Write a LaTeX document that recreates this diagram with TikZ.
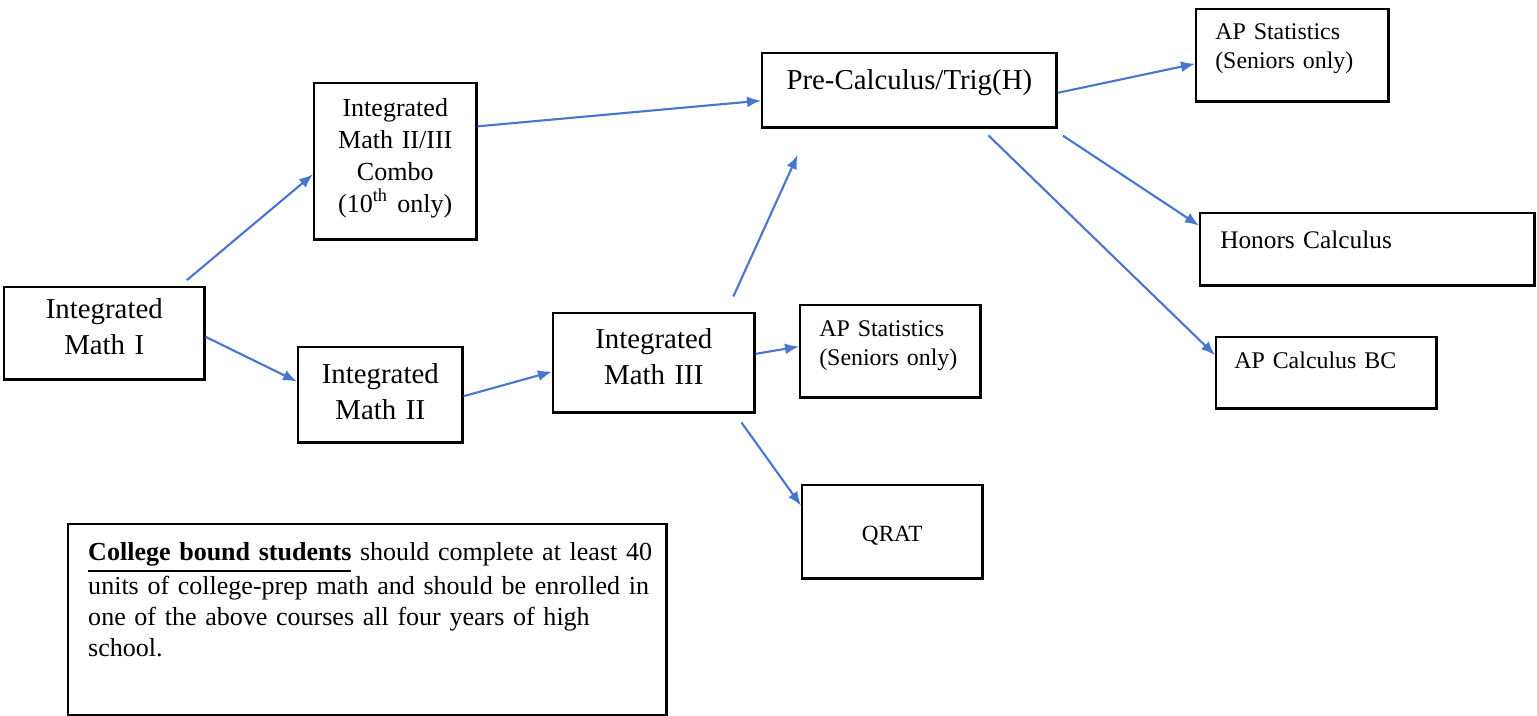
\documentclass[tikz,border=0pt]{standalone}
\usepackage{fontspec}
\setmainfont{Liberation Serif}
\usetikzlibrary{arrows.meta}
\definecolor{arrowblue}{RGB}{72,118,206}
\tikzset{
  box/.style={draw, line width=0.7pt, anchor=north west, inner xsep=0pt, inner ysep=0pt, align=center},
  leftbox/.style={box, align=left, inner xsep=0.19cm},
  arr/.style={draw=arrowblue, line width=0.6pt, -{Latex[length=1.4mm,width=1.1mm]}}
}
\newcommand{\coursefont}{\fontsize{8.2}{10.2}\selectfont}
\newcommand{\smallfont}{\fontsize{6.8}{8.3}\selectfont}

\begin{document}
\begin{tikzpicture}[x=0.01cm, y=-0.01cm]
    \useasboundingbox (0,0) rectangle (1537,715);

    % main path
    \node[box, text width=2cm, text height=0.31cm, text depth=0.61cm, font=\coursefont] (mathI) at (3,286) {Integrated\\Math I};
    \node[box, text width=1.62cm, text height=0.33cm, text depth=1.23cm, font=\fontsize{7.4}{9.1}\selectfont] (combo) at (313,82) {Integrated\\Math II/III\\Combo\\(10\textsuperscript{th} only)};
    \node[box, text width=1.64cm, text height=0.36cm, text depth=0.59cm, font=\coursefont] (mathII) at (297,346) {Integrated\\Math II};
    \node[box, text width=2.01cm, text height=0.35cm, text depth=0.64cm, font=\coursefont] (mathIII) at (552,312) {Integrated\\Math III};
    \node[box, text width=2.94cm, text height=0.36cm, text depth=0.38cm, font=\coursefont] (precalc) at (761,52) {Pre-Calculus/Trig(H)};

    % senior options
    \node[leftbox, text width=1.54cm, text height=0.30cm, text depth=0.62cm, font=\smallfont] (apstatA) at (1195,8) {AP Statistics\\(Seniors only)};
    \node[leftbox, inner xsep=0.2cm, text width=2.94cm, text height=0.35cm, text depth=0.37cm, font=\fontsize{7.2}{8.6}\selectfont] (honors) at (1199,212) {Honors Calculus};
    \node[leftbox, inner xsep=0.18cm, text width=1.84cm, text height=0.31cm, text depth=0.40cm, font=\smallfont] (apcalc) at (1215,336) {AP Calculus BC};
    \node[leftbox, text width=1.42cm, text height=0.31cm, text depth=0.61cm, font=\smallfont] (apstatB) at (799,304) {AP Statistics\\(Seniors only)};
    \node[box, text width=1.80cm, text height=0.56cm, text depth=0.37cm, font=\fontsize{6.6}{8}\selectfont] (qrat) at (801,484) {QRAT};

    % note
    \node[leftbox, inner xsep=0.2cm, text width=5.58cm, text height=0.36cm, text depth=1.55cm, font=\fontsize{7.4}{8.8}\selectfont] (note) at (67,523)
        {\mbox{\underline{\textbf{College bound students}} should complete at least 40}\\
         \mbox{units of college-prep math and should be enrolled in}\\
         \mbox{one of the above courses all four years of high}\\
         \mbox{school.}};

    \draw[arr, shorten <=0.09cm] (mathI.32) -- (combo.189);
    \draw[arr] (mathI.-2) -- (mathII.171);
    \draw[arr] (mathII.-1) -- (mathIII.185);
    \draw[arr] (combo.23) -- (precalc.184);
    \draw[arr, shorten <=0.17cm, shorten >=0.29cm] (mathIII.35) -- (precalc.201);
    \draw[arr] (mathIII.5) -- (apstatB.177);
    \draw[arr, shorten <=0.11cm] (mathIII.-32.5) -- (qrat.164);
    \draw[arr] (precalc.-1) -- (apstatA.185);
    \draw[arr, shorten <=0.13cm] (precalc.-15) -- (honors.172);
    \draw[arr, shorten <=0.1cm] (precalc.-28) -- (apcalc.171);
\end{tikzpicture}
\end{document}
